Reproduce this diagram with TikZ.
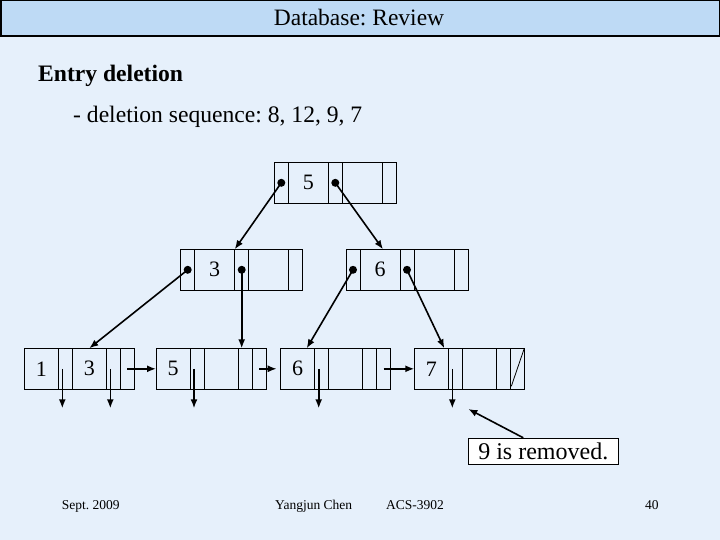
\documentclass[tikz,border=0pt]{standalone}
\usepackage{fontspec}
\setmainfont{Liberation Serif}
\usetikzlibrary{arrows.meta,positioning}
\frenchspacing
\definecolor{slidebg}{RGB}{230,240,251}
\definecolor{titlebg}{RGB}{190,218,245}
\tikzset{
  cella/.style={draw,inner sep=0pt,outer sep=0pt,minimum height=41pt,line width=0.8pt},
  pcell/.style={cella,minimum width=14pt},
  kcell/.style={cella,minimum width=40pt,font=\fontsize{22}{24}\selectfont},
  lkcell/.style={kcell,minimum width=34pt},
  pdot/.style={circle,fill,inner sep=0pt,minimum size=8pt},
  arr/.style={-{Latex[length=9pt,width=7pt]},line width=1.6pt},
  note/.style={draw,fill=white,line width=0.8pt,inner xsep=10pt,inner ysep=2pt,minimum height=26pt,
               font=\fontsize{24}{28}\selectfont},
  big/.style={anchor=base west,inner sep=0pt,font=\fontsize{23.6}{28}\selectfont},
  foot/.style={anchor=base west,inner sep=0pt,font=\fontsize{13.5}{16}\selectfont},
}

\begin{document}
\begin{tikzpicture}[x=1pt,y=-1pt]
  \fill[slidebg] (0,0) rectangle (720,540);
  \draw[fill=titlebg,line width=1.5pt] (0.75,0.75) rectangle (719.25,36);
  \node[font=\fontsize{23.5}{28}\selectfont] (title) at (359,18) {Database: Review};
  \node[big,font=\fontsize{23.6}{28}\selectfont\bfseries] (head) at (38,81.7) {Entry deletion};
  \node[big] (seq) at (73,122.7) {- deletion sequence: 8, 12, 9, 7};

  % root
  \node[pcell,anchor=north west] (rp1) at (274.3,162.3) {};
  \node[kcell,right=0pt of rp1] (rk1) {5};
  \node[pcell,right=0pt of rk1] (rp2) {};
  \node[kcell,right=0pt of rp2] (rk2) {};
  \node[pcell,right=0pt of rk2] (rp3) {};

  % inner nodes
  \node[pcell,anchor=north west] (ap1) at (180.7,249.3) {};
  \node[kcell,right=0pt of ap1] (ak1) {3};
  \node[pcell,right=0pt of ak1] (ap2) {};
  \node[kcell,right=0pt of ap2] (ak2) {};
  \node[pcell,right=0pt of ak2] (ap3) {};

  \node[pcell,anchor=north west] (bp1) at (346,249.3) {};
  \node[kcell,right=0pt of bp1] (bk1) {6};
  \node[pcell,right=0pt of bk1] (bp2) {};
  \node[kcell,right=0pt of bp2] (bk2) {};
  \node[pcell,right=0pt of bk2] (bp3) {};

  % leaves
  \node[lkcell,anchor=north west] (l1k1) at (24.3,348.3) {1};
  \node[pcell,right=0pt of l1k1] (l1p1) {};
  \node[lkcell,right=0pt of l1p1] (l1k2) {3};
  \node[pcell,right=0pt of l1k2] (l1p2) {};
  \node[pcell,right=0pt of l1p2] (l1n) {};

  \node[lkcell,anchor=north west] (l2k1) at (156,348.3) {5};
  \node[pcell,right=0pt of l2k1] (l2p1) {};
  \node[lkcell,right=0pt of l2p1] (l2k2) {};
  \node[pcell,right=0pt of l2k2] (l2p2) {};
  \node[pcell,right=0pt of l2p2] (l2n) {};

  \node[lkcell,anchor=north west] (l3k1) at (280.7,348.3) {6};
  \node[pcell,right=0pt of l3k1] (l3p1) {};
  \node[lkcell,right=0pt of l3p1] (l3k2) {};
  \node[pcell,right=0pt of l3k2] (l3p2) {};
  \node[pcell,right=0pt of l3p2] (l3n) {};

  \node[lkcell,anchor=north west] (l4k1) at (414.3,348.3) {7};
  \node[pcell,right=0pt of l4k1] (l4p1) {};
  \node[lkcell,right=0pt of l4p1] (l4k2) {};
  \node[pcell,right=0pt of l4k2] (l4p2) {};
  \node[pcell,right=0pt of l4p2] (l4n) {};
  \draw[line width=0.8pt] ([shift={(1pt,3pt)}]l4n.south west) -- (l4n.north east);

  % pointers
  \node[pdot] (rd1) at (rp1) {};
  \node[pdot] (rd2) at (rp2) {};
  \node[pdot] (ad1) at (ap1) {};
  \node[pdot] (ad2) at (ap2) {};
  \node[pdot] (bd1) at (bp1) {};
  \node[pdot] (bd2) at (bp2) {};
  \draw[arr] (rd1.center) -- (ap2.north west);
  \draw[arr] (rd2.center) -- ([xshift=3pt]bk1.north);
  \draw[arr] (ad1.center) -- (l1k2.north);
  \draw[arr] (ad2.center) -- (ad2.center |- l2p2.north);
  \draw[arr] (bd1.center) -- ([xshift=-8pt]l3k1.north east);
  \draw[arr] (bd2.center) -- ([xshift=-4pt]l4k1.north east);

  \foreach \c in {l1p1,l1p2,l2p1,l3p1,l4p1}
    \draw[arr] ([xshift=-3pt]\c.center) -- ([shift={(-3pt,-19pt)}]\c.south);
  \draw[arr] (l1n.center) -- (l2k1.west);
  \draw[arr] (l2n.center) -- ([xshift=-4pt]l3k1.west);
  \draw[arr] (l3n.center) -- (l4k1.west);

  % callout
  \node[note] (msg) at (543.3,451.2) {9 is removed.};
  \coordinate (gone) at (468.3,409);
  \draw[arr] ([xshift=-20pt]msg.north) -- (gone);

  % footer
  \node[foot] (date) at (61.7,509) {Sept. 2009};
  \node[foot] (auth) at (275,509) {Yangjun Chen};
  \node[foot] (course) at (386,509) {ACS-3902};
  \node[foot] (page) at (645,509) {40};
\end{tikzpicture}
\end{document}
